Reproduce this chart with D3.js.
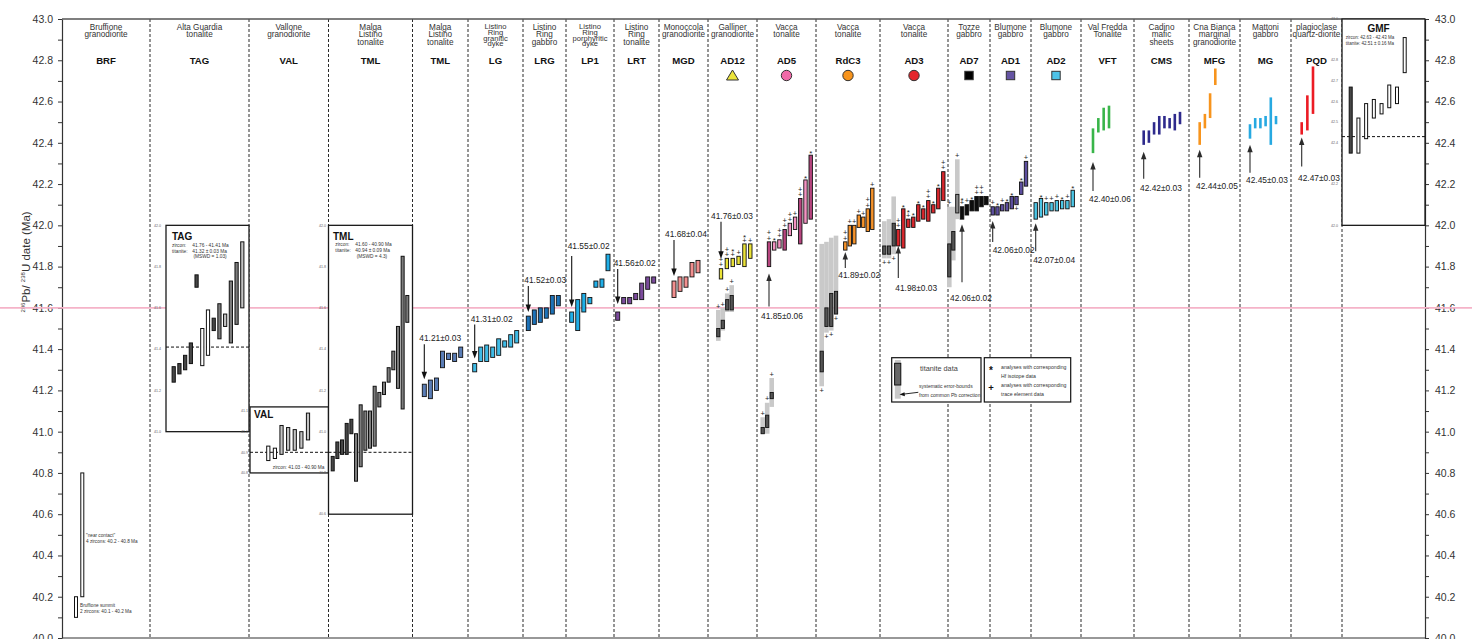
<!DOCTYPE html>
<html>
<head>
<meta charset="utf-8">
<title>U-Pb zircon and titanite dates</title>
<script src="https://cdn.jsdelivr.net/npm/d3@7/dist/d3.min.js"></script>
<style>
  html,body{margin:0;padding:0;background:#fff;}
  svg{display:block;font-family:"Liberation Sans",Arial,Helvetica,sans-serif;}
</style>
</head>
<body>
<svg id="chart" width="1472" height="639"></svg>
<script>
// ---------------- categories ----------------
const codes = ["BRF","TAG","VAL","TML","TML","LG","LRG","LP1","LRT","MGD","AD12","AD5","RdC3","AD3","AD7","AD1","AD2","VFT","CMS","MFG","MG","PQD",""];
const titles = [
  ["Bruffione","granodiorite"], ["Alta Guardia","tonalite"], ["Vallone","granodiorite"],
  ["Malga","Listino","tonalite"], ["Malga","Listino","tonalite"],
  ["Listino","Ring","granitic","dyke"], ["Listino","Ring","gabbro"], ["Listino","Ring","porphyritic","dyke"],
  ["Listino","Ring","tonalite"], ["Monoccola","granodiorite"], ["Galliner","granodiorite"],
  ["Vacca","tonalite"], ["Vacca","tonalite"], ["Vacca","tonalite"], ["Tozze","gabbro"],
  ["Blumone","gabbro"], ["Blumone","gabbro"], ["Val Fredda","Tonalite"], ["Cadino","mafic","sheets"],
  ["Cna Bianca","marginal","granodiorite"], ["Mattoni","gabbro"], ["plagioclase","quartz-diorite"], []
];
const yMajor = [40.0,40.2,40.4,40.6,40.8,41.0,41.2,41.4,41.6,41.8,42.0,42.2,42.4,42.6,42.8,43.0];
const yMinor = [40.1,40.3,40.5,40.7,40.9,41.1,41.3,41.5,41.7,41.9,42.1,42.3,42.5,42.7,42.9];

// ---------------- single-grain dates, Ma: [min, max] ----------------
const BRF  = [[40.10,40.20],[40.20,40.80]];
const TAG  = [[41.24,41.315],[41.28,41.33],[41.30,41.37],[41.33,41.43],[41.70,41.76],[41.32,41.50],[41.37,41.59],
              [41.49,41.55],[41.45,41.62],[41.51,41.57],[41.43,41.73],[41.52,41.82],[41.60,41.92]];
const VAL  = [[40.86,40.93],[40.87,40.92],[40.89,41.03],[40.91,41.02],[40.91,41.01],[40.92,41.00],[40.96,41.09]];
const TMLa = [[40.81,40.88],[40.87,40.95],[40.89,40.96],[40.89,41.04],[40.99,41.06],[40.76,40.99],[40.83,41.13],
              [40.91,41.10],[40.92,41.10],[40.93,41.22],[41.12,41.19],[41.18,41.24],[41.24,41.31],[41.30,41.39],
              [41.21,41.51],[41.11,41.85],[41.53,41.66]];
const TMLb = [[41.17,41.23],[41.16,41.25],[41.20,41.26],[41.31,41.39],[41.35,41.38],[41.34,41.38],[41.36,41.41]];
const LG   = [[41.29,41.33],[41.34,41.41],[41.34,41.42],[41.36,41.41],[41.37,41.45],[41.41,41.44],[41.41,41.47],[41.43,41.49]];
const LRG  = [[41.49,41.56],[41.52,41.59],[41.53,41.60],[41.55,41.60],[41.57,41.66],[41.61,41.66]];
const LP1  = [[41.53,41.58],[41.49,41.64],[41.58,41.67],[41.62,41.65],[41.70,41.73],[41.70,41.74],[41.78,41.86]];
const LRT  = [[41.54,41.58],[41.62,41.65],[41.62,41.65],[41.64,41.67],[41.64,41.72],[41.69,41.75],[41.72,41.75]];
const MGD  = [[41.65,41.73],[41.68,41.75],[41.70,41.75],[41.75,41.82],[41.77,41.83]];
const AD12 = [[41.74,41.79],[41.79,41.84],[41.80,41.84],[41.81,41.85],[41.80,41.91],[41.84,41.91]];
const AD5  = [[41.80,41.92],[41.88,41.92],[41.89,41.93],[41.88,41.98],[41.95,42.01],[41.98,42.04],[41.91,42.13],[42.01,42.22],[42.03,42.34]];
const RdC3 = [[41.88,41.92],[41.90,42.00],[41.91,42.00],[41.99,42.05],[41.99,42.04],[41.97,42.08],[41.98,42.18]];
const AD3  = [[41.90,41.98],[41.89,42.08],[41.99,42.03],[41.99,42.04],[42.02,42.10],[42.03,42.08],[42.02,42.12],[42.06,42.10],[42.08,42.18],[42.12,42.26]];
const AD7  = [[42.03,42.09],[42.05,42.10],[42.07,42.12],[42.07,42.14],[42.09,42.14],[42.10,42.14]];
const AD1  = [[42.05,42.09],[42.05,42.09],[42.07,42.10],[42.07,42.11],[42.08,42.14],[42.10,42.14],[42.15,42.21],[42.19,42.31]];
const AD2  = [[42.03,42.11],[42.04,42.13],[42.05,42.11],[42.07,42.11],[42.07,42.12],[42.08,42.12],[42.08,42.12],[42.09,42.17]];
const VFT  = [[42.35,42.47],[42.45,42.52],[42.46,42.57],[42.47,42.58]];
const CMS  = [[42.39,42.46],[42.40,42.46],[42.44,42.50],[42.44,42.53],[42.47,42.53],[42.47,42.52],[42.46,42.54],[42.49,42.55]];
const MFG  = [[42.39,42.50],[42.47,42.54],[42.52,42.64],[42.68,42.76]];
const MG   = [[42.42,42.49],[42.47,42.52],[42.47,42.52],[42.48,42.53],[42.39,42.62],[42.49,42.53]];
const PQD  = [[42.44,42.50],[42.46,42.63],[42.54,42.77]];
const GMF  = [[42.35,42.67],[42.35,42.52],[42.42,42.59],[42.52,42.61],[42.54,42.59],[42.57,42.68],[42.59,42.67],[42.74,42.91]];

// titanite: [lower bound incl. common-Pb error, upper bound, min, max]
const AD12t = [[41.44,41.59,41.46,41.50],[41.49,41.60,41.50,41.54],[41.58,41.67,41.59,41.64],[41.58,41.71,41.59,41.66]];
const AD5t  = [[40.99,41.07,40.99,41.02],[40.99,41.14,41.02,41.08],[41.12,41.26,41.16,41.19]];
const RdC3t = [[41.22,41.91,41.29,41.39],[41.48,41.92,41.51,41.60],[41.49,41.94,41.51,41.67],[41.57,41.95,41.57,41.68]];
const AD3t  = [[41.84,42.02,41.86,41.90],[41.84,42.03,41.86,41.90],[41.86,42.14,41.90,42.01]];
const AD7t  = [[41.70,42.09,41.75,41.91],[41.83,42.09,41.88,41.97],[42.03,42.32,42.06,42.15]];

// fill classes of the grey-scale analyses (d dark, m medium, l light, w open)
const BRF_fill  = "ww";
const TAG_fill  = "dddddwwdmlmml";
const VAL_fill  = "wwlllll";
const TMLa_fill = "dddddmmmmmmmmmmmm";
const GMF_fill  = "dwwwwwww";
const AD5_tone  = "dlldlldld";
const AD7t_tone = "ddm";

// Hf (*) and trace element (+) flags, listed top to bottom; "_" = written below the bar
const AD12_flags = ["++","++","*+","+","*+","+"];
const AD12t_flags = ["+","+","+","+"];
const AD5_flags  = ["++","*","++","++","++","+","++","*","*"];
const AD5t_flags = ["+","+","+"];
const RdC3_flags = ["++","+","+","+","+","++","+"];
const RdC3t_flags = ["_+","_+","_+","_+"];
const AD3_flags  = ["++","*","*+","*","*","*","++","*","*","++"];
const AD3t_flags = ["_+","_+","_+"];
const AD7_flags  = ["*+","+","*","++","++",""];
const AD7t_flags = ["+","","+"];
const AD1_flags  = ["+","*","+","*","*","_+","*","+"];
const AD2_flags  = ["","*","+","+","+","*","+","*"];

// weighted mean ages
const meanIds  = ["TMLb","LG","LRG","LP1","LRT","MGD","AD12","AD5","RdC3","AD3","AD7","AD1","AD2","VFT","CMS","MFG","MG","PQD"];
const meanAge  = [41.21,41.31,41.52,41.55,41.56,41.68,41.76,41.85,41.89,41.98,42.06,42.06,42.07,42.40,42.42,42.44,42.45,42.47];
const meanErr  = [0.03,0.02,0.03,0.02,0.02,0.04,0.03,0.06,0.02,0.03,0.02,0.02,0.04,0.06,0.03,0.05,0.03,0.03];

// inset panels: age range, zircon lower limit, tick labels
const insetIds    = ["TAG","VAL","TML","GMF"];
const insetRange  = [[41.0,42.0],[40.8,41.12],[40.6,42.0],[42.0,43.0]];
const insetLine   = [41.41,40.90,40.90,42.43];
const insetTicks  = [[42.0,41.8,41.6,41.4,41.2,41.0],[41.1,41.0,40.9,40.8],[42.0,41.8,41.6,41.4,41.2,41.0,40.8,40.6],[43.0,42.8,42.7,42.6,42.5,42.4,42.2,42.0]];
const referenceAge = 41.6;

// ---------------- layout ----------------
const W = 1472, H = 639;
const xL = 62, xR = 1425;
const bounds = [62,150,249,328.5,412.5,468,523,566,614,659,708,757,816,880,948,990,1031,1081,1134,1189,1240,1291,1342,1425];
const place = {   // first bar x, last bar x, bar width
  BRF:[76,82.3,3], TAG:[173.7,242.3,3.2], VAL:[268.3,308,3.2], TMLa:[332.7,407.3,3], TMLb:[424.3,460.7,4],
  LG:[474.7,516.7,4], LRG:[528.3,558.3,4], LP1:[571.7,608,4], LRT:[617.7,653.7,4], MGD:[674,698,4],
  AD12:[721,750.3,3.4], AD12t:[718.3,731.7,3.2], AD5:[769,810.7,3.4], AD5t:[762.7,771.7,3.2],
  RdC3:[845.3,872.3,3.4], RdC3t:[821.7,836,3.2], AD3t:[884.3,893.7,3.2], AD3:[898.3,943.3,3.4],
  AD7t:[949.3,957.3,3.2], AD7:[962,986.3,3.6], AD1:[992.7,1026,3.4], AD2:[1035.7,1072.7,3.4],
  VFT:[1093,1109,2.6], CMS:[1143.7,1180,2.6], MFG:[1199.7,1215.3,2.6], MG:[1250,1276,2.6], PQD:[1301.7,1313,2.6],
  GMF:[1350.7,1404.7,3]
};
const colors = {
  TMLb:"#5a7db6", LG:"#3fbbe6", LRG:"#1d72b8", LP1:"#20afe8", LRT:"#7b4b9c", MGD:"#f28f8f",
  AD12:"#ebe337", AD5d:"#b7457f", AD5l:"#f492c2", RdC3:"#f5922a", AD3:"#d8272d", AD7:"#0d0d0d",
  AD1:"#5d4f9f", AD2:"#4cc6e6", VFT:"#39b54a", CMS:"#2e2a8c", MFG:"#f7941d", MG:"#27a9e1", PQD:"#ec1c24"
};
const greys = {d:"#474747", m:"#7d7d7d", l:"#c4c4c4", w:"#ffffff"};
const ttnShade = {d:"#555555", m:"#8c8c8c"};
const insetBox = [[166,249],[250,328.5],[328.5,412.5],[1342,1425]];
const insetTickX = [161,248,326,1338];
const symbolCols = [10,11,12,13,14,15,16];
const symbolKind = ["tri","circ","circ","circ","sq","sq","sq"];
const symbolFill = ["#ece43a","#f06aa8","#f7941d","#e4262b","#000000","#6554a3","#4ec3e8"];
const arrowGap = [5,5,4,5,8,5,10, 7,2,0,5,6,4, 9,7,5,6,3];
const arrowLen = [35,34,26,51,35,36,37, 33,16,32,58,21,28, 29,27,28,28,29];
const labelDx  = [-5,-4,-4,-4,-4,-9,-10, -8,-7,-3,-12,0,-2.5, -4,-3.7,-3.7,-4,-3.7];
const labelDy  = [-3.3,-2.7,-3,-6.7,-3,-2.7,-3, 12.3,9.6,12.7,19,11.3,11.6, 11.3,12,11,10.7,14];

const svg = d3.select("#chart");
const y = d3.scaleLinear().domain([40, 43]).range([638, 19]);
const xScales = {};
function xOf(id, n) {
  const p = place[id];
  const s = d3.scaleLinear().domain([0, Math.max(1, n - 1)]).range([p[0], p[1]]);
  xScales[id] = s;
  return s;
}

// ---------------- column dividers ----------------
svg.append("g").selectAll("line").data(bounds.slice(1, -1)).join("line")
  .attr("x1", d => d).attr("x2", d => d).attr("y1", y(43)).attr("y2", y(40))
  .attr("stroke", "#2a2a2a").attr("stroke-width", 1).attr("stroke-dasharray", "3,2");

// ---------------- axes ----------------
function styleAxis(g) {
  g.attr("font-family", null).attr("font-size", null);
  g.select(".domain").attr("stroke", "#333").attr("stroke-width", 1.2);
  g.selectAll(".tick line").attr("stroke", "#333");
  g.selectAll(".tick text").attr("fill", "#333").style("font-size", "10.5px");
}
const axL = svg.append("g").attr("transform", `translate(${xL},0)`)
  .call(d3.axisLeft(y).tickValues(yMajor).tickFormat(d3.format(".1f")).tickSize(4).tickPadding(5).tickSizeOuter(0));
styleAxis(axL);
const axLm = svg.append("g").attr("transform", `translate(${xL},0)`)
  .call(d3.axisLeft(y).tickValues(yMinor).tickFormat("").tickSize(4).tickSizeOuter(0));
axLm.select(".domain").remove(); axLm.selectAll(".tick line").attr("stroke", "#333");
const axR = svg.append("g").attr("transform", `translate(${xR},0)`)
  .call(d3.axisRight(y).tickValues(yMajor).tickFormat(d3.format(".1f")).tickSize(4).tickPadding(6).tickSizeOuter(0));
styleAxis(axR);
const axRm = svg.append("g").attr("transform", `translate(${xR},0)`)
  .call(d3.axisRight(y).tickValues(yMinor).tickFormat("").tickSize(4).tickSizeOuter(0));
axRm.select(".domain").remove(); axRm.selectAll(".tick line").attr("stroke", "#333");

svg.append("line").attr("x1", xL).attr("x2", xR).attr("y1", y(43)).attr("y2", y(43))
  .attr("stroke", "#555").attr("stroke-width", 1.6);
svg.append("line").attr("x1", xL).attr("x2", xR).attr("y1", y(40)).attr("y2", y(40))
  .attr("stroke", "#333").attr("stroke-width", 1.2);

// axis title
const yl = svg.append("text").attr("transform", "translate(30,262) rotate(-90)")
  .attr("text-anchor", "middle").attr("fill", "#333").style("font-size", "11.5px");
yl.append("tspan").style("font-size", "6px").attr("dy", -5).text("206");
yl.append("tspan").attr("dy", 5).text("Pb/ ");
yl.append("tspan").style("font-size", "6px").attr("dy", -5).text("238");
yl.append("tspan").attr("dy", 5).text("U date (Ma)");

// reference line
svg.append("line").attr("x1", 0).attr("x2", W).attr("y1", y(referenceAge)).attr("y2", y(referenceAge))
  .attr("stroke", "#f5b3c8").attr("stroke-width", 1.6);

// ---------------- inset panels ----------------
const gIn = svg.append("g");
insetIds.forEach((id, i) => {
  const [x0, x1] = insetBox[i], [lo, hi] = insetRange[i];
  gIn.append("rect").attr("x", x0).attr("y", y(hi)).attr("width", x1 - x0).attr("height", y(lo) - y(hi))
    .attr("fill", "#fff").attr("stroke", "#1a1a1a").attr("stroke-width", 1.3);
  gIn.append("line").attr("x1", x0).attr("x2", x1).attr("y1", y(insetLine[i])).attr("y2", y(insetLine[i]))
    .attr("stroke", "#111").attr("stroke-width", 1).attr("stroke-dasharray", "3,2");
  gIn.selectAll(null).data(insetTicks[i]).join("text")
    .attr("x", insetTickX[i]).attr("y", d => y(d) + 1.2).attr("text-anchor", "end")
    .attr("fill", "#666").style("font-size", "3.6px").text(d => d.toFixed(1));
});
function small(g, x, yy, txt, size, anchor) {
  g.append("text").attr("x", x).attr("y", yy).attr("fill", "#333")
    .attr("text-anchor", anchor || "start").style("font-size", (size || 4.8) + "px").text(txt);
}
function bold(g, x, yy, txt, anchor) {
  g.append("text").attr("x", x).attr("y", yy).attr("fill", "#111").attr("font-weight", "bold")
    .attr("text-anchor", anchor || "start").style("font-size", "10px").text(txt);
}
bold(gIn, 172, 239.5, "TAG");
small(gIn, 172, 246.8, "zircon:"); small(gIn, 192.3, 246.8, "41.76 - 41.41 Ma");
small(gIn, 172, 252.6, "titanite:"); small(gIn, 192.3, 252.6, "41.32 \u00b1 0.03 Ma");
small(gIn, 193.5, 258.4, "(MSWD = 1.03)");
bold(gIn, 254, 417.5, "VAL");
small(gIn, 324.5, 468.8, "zircon: 41.03 - 40.90 Ma", 4.8, "end");
bold(gIn, 333, 239.5, "TML");
small(gIn, 335.3, 246.3, "zircon:"); small(gIn, 355.3, 246.3, "41.60 - 40.90 Ma");
small(gIn, 335.3, 252, "titanite:"); small(gIn, 355.3, 252, "40.94 \u00b1 0.09 Ma");
small(gIn, 356.7, 257.8, "(MSWD = 4.3)");
bold(gIn, 1378.5, 31.5, "GMF", "middle");
small(gIn, 1345.7, 39, "zircon: 42.63 - 42.43 Ma", 4.5);
small(gIn, 1345.7, 45.3, "titanite: 42.51 \u00b1 0.16 Ma", 4.5);
small(gIn, 86, 537, "\"near contact\"", 4.7);
small(gIn, 86, 543, "4 zircons: 40.2 - 40.8 Ma", 4.7);
small(gIn, 80, 607, "Bruffione summit", 4.7);
small(gIn, 80, 613, "2 zircons: 40.1 - 40.2 Ma", 4.7);

// ---------------- bars ----------------
const gBars = svg.append("g");
function bars(id, data, fill, stroke, sw) {
  const x = xOf(id, data.length), w = place[id][2];
  gBars.append("g").selectAll("rect").data(data).join("rect")
    .attr("x", (d, i) => x(i) - w / 2).attr("y", d => y(d[1]))
    .attr("width", w).attr("height", d => Math.max(0.6, y(d[0]) - y(d[1])))
    .attr("fill", (d, i) => typeof fill === "function" ? fill(d, i) : fill)
    .attr("stroke", stroke).attr("stroke-width", sw);
}
function titanite(id, data, tone) {
  const x = xOf(id, data.length), w = place[id][2];
  const g = gBars.append("g");
  g.selectAll(".bg").data(data).join("rect").attr("class", "bg")
    .attr("x", (d, i) => x(i) - w * 0.72).attr("y", d => y(d[1]))
    .attr("width", w * 1.44).attr("height", d => y(d[0]) - y(d[1])).attr("fill", "#c9c9c9");
  g.selectAll(".ti").data(data).join("rect").attr("class", "ti")
    .attr("x", (d, i) => x(i) - w / 2).attr("y", d => y(d[3]))
    .attr("width", w).attr("height", d => y(d[2]) - y(d[3]))
    .attr("fill", (d, i) => ttnShade[tone ? tone[i] : "d"]).attr("stroke", "#111").attr("stroke-width", 0.9);
}

// grey-scale series (with inset panels)
[["BRF", BRF, BRF_fill], ["TAG", TAG, TAG_fill], ["VAL", VAL, VAL_fill], ["TMLa", TMLa, TMLa_fill], ["GMF", GMF, GMF_fill]]
  .forEach(([id, d, f]) => bars(id, d, (v, i) => greys[f[i]], "#111", 1));
// coloured zircon series
const zirconSets = {TMLb, LG, LRG, LP1, LRT, MGD, AD12, RdC3, AD3, AD7, AD1, AD2};
Object.keys(zirconSets).forEach(id => bars(id, zirconSets[id], colors[id], "#111", 0.9));
bars("AD5", AD5, (d, i) => AD5_tone[i] === "d" ? colors.AD5d : colors.AD5l, "#111", 0.9);
// solid-line series
[["VFT", VFT], ["CMS", CMS], ["MFG", MFG], ["MG", MG], ["PQD", PQD]].forEach(([id, d]) => bars(id, d, colors[id], "none", 0));
// titanite
titanite("AD12t", AD12t); titanite("AD5t", AD5t); titanite("RdC3t", RdC3t);
titanite("AD3t", AD3t); titanite("AD7t", AD7t, AD7t_tone);

// ---------------- Hf / trace-element flags ----------------
const gFlags = svg.append("g").attr("fill", "#222");
function flags(id, data, list) {
  const x = xScales[id];
  list.forEach((m, i) => {
    if (!m) return;
    const d = data[i];
    const top = y(d[1]), bot = y(d[0]);
    const below = m[0] === "_";
    const chars = (below ? m.slice(1) : m).split("");
    const order = below ? chars : chars.slice().reverse();
    order.forEach((c, k) => {
      const cy = below ? bot + 4 + k * 5.2 : top - 3.8 - k * 5.2;
      gFlags.append("text").attr("x", x(i)).attr("y", cy)
        .attr("text-anchor", "middle").attr("dominant-baseline", "central")
        .attr("dy", c === "*" ? "0.3em" : 0)
        .style("font-size", c === "*" ? "8px" : "7.5px").text(c);
    });
  });
}
flags("AD12", AD12, AD12_flags); flags("AD12t", AD12t, AD12t_flags);
flags("AD5", AD5, AD5_flags); flags("AD5t", AD5t, AD5t_flags);
flags("RdC3", RdC3, RdC3_flags); flags("RdC3t", RdC3t, RdC3t_flags);
flags("AD3", AD3, AD3_flags); flags("AD3t", AD3t, AD3t_flags);
flags("AD7", AD7, AD7_flags); flags("AD7t", AD7t, AD7t_flags);
flags("AD1", AD1, AD1_flags); flags("AD2", AD2, AD2_flags);

// ---------------- weighted mean arrows ----------------
const seriesData = {TMLb, LG, LRG, LP1, LRT, MGD, AD12, AD5, RdC3, AD3, AD7, AD1, AD2, VFT, CMS, MFG, MG, PQD};
const gArr = svg.append("g");
function arrow(g, x, tail, tip, col) {
  const dir = tip > tail ? 1 : -1;
  g.append("line").attr("x1", x).attr("x2", x).attr("y1", tail).attr("y2", tip - dir * 5)
    .attr("stroke", col).attr("stroke-width", 1.1);
  g.append("path").attr("d", `M${x},${tip}L${x - 2.7},${tip - dir * 7.5}L${x + 2.7},${tip - dir * 7.5}Z`).attr("fill", col);
}
meanIds.forEach((id, i) => {
  const first = seriesData[id][0], x = xScales[id](0);
  const down = i < 7;
  const tip = down ? y(first[1]) - arrowGap[i] : y(first[0]) + arrowGap[i];
  const tail = down ? tip - arrowLen[i] : tip + arrowLen[i];
  arrow(gArr, x, tail, tip, down ? "#111" : "#2b2b2b");
  gArr.append("text").attr("x", x + labelDx[i]).attr("y", tail + labelDy[i])
    .attr("fill", "#222").style("font-size", "8.4px")
    .text(`${meanAge[i].toFixed(2)}\u00b1${meanErr[i].toFixed(2)}`);
});

// ---------------- column headers ----------------
const gHead = svg.append("g");
titles.forEach((t, i) => {
  const cx = (bounds[i] + bounds[i + 1]) / 2;
  const tight = t.length > 3;
  const step = tight ? 5.7 : 7.6;
  t.forEach((line, k) => gHead.append("text").attr("x", cx).attr("y", (tight ? 29.2 : 29.7) + k * step)
    .attr("text-anchor", "middle").attr("fill", "#333").style("font-size", tight ? "7.6px" : "8.2px").text(line));
  if (codes[i]) gHead.append("text").attr("x", cx).attr("y", 63.5).attr("text-anchor", "middle")
    .attr("font-weight", "bold").attr("fill", "#111").style("font-size", "9.6px").text(codes[i]);
});
symbolCols.forEach((c, k) => {
  const cx = (bounds[c] + bounds[c + 1]) / 2, cy = 75.5;
  const kind = symbolKind[k];
  let el;
  if (kind === "tri") el = gHead.append("path").attr("d", `M${cx},${cy - 5.5}L${cx + 6},${cy + 4.5}L${cx - 6},${cy + 4.5}Z`);
  else if (kind === "circ") el = gHead.append("circle").attr("cx", cx).attr("cy", cy).attr("r", 5.2);
  else el = gHead.append("rect").attr("x", cx - 4.2).attr("y", cy - 4.2).attr("width", 8.4).attr("height", 8.4);
  el.attr("fill", symbolFill[k]).attr("stroke", "#333").attr("stroke-width", 1);
});

// ---------------- legend ----------------
const gLeg = svg.append("g");
gLeg.append("rect").attr("x", 891.7).attr("y", 357.7).attr("width", 89.3).attr("height", 44.3)
  .attr("fill", "#fff").attr("stroke", "#111").attr("stroke-width", 1.2);
gLeg.append("rect").attr("x", 894.8).attr("y", 360).attr("width", 6).attr("height", 38.7).attr("fill", "#c9c9c9");
gLeg.append("rect").attr("x", 894.6).attr("y", 363.3).attr("width", 6.2).attr("height", 21.7)
  .attr("fill", "#666").attr("stroke", "#111").attr("stroke-width", 1);
gLeg.append("text").attr("x", 920).attr("y", 371).attr("fill", "#444").style("font-size", "7.3px").text("titanite data");
small(gLeg, 919, 387.6, "systematic error-bounds", 5);
small(gLeg, 919, 396.6, "from common Pb correction", 5);
gLeg.append("line").attr("x1", 918.3).attr("y1", 392.3).attr("x2", 903).attr("y2", 394.2).attr("stroke", "#111").attr("stroke-width", 0.9);
gLeg.append("path").attr("d", "M899.5,394.6L904.5,392.2L904.9,396.3Z").attr("fill", "#111");
gLeg.append("rect").attr("x", 984.3).attr("y", 357.7).attr("width", 86.4).attr("height", 44.3)
  .attr("fill", "#fff").attr("stroke", "#111").attr("stroke-width", 1.2);
gLeg.append("text").attr("x", 991).attr("y", 374).attr("text-anchor", "middle").attr("fill", "#111")
  .attr("font-weight", "bold").style("font-size", "10px").text("*");
gLeg.append("text").attr("x", 991).attr("y", 391).attr("text-anchor", "middle").attr("fill", "#111")
  .attr("font-weight", "bold").style("font-size", "9.5px").text("+");
small(gLeg, 1001, 369, "analyses with corresponding", 5.2);
small(gLeg, 1001, 378, "Hf isotope data", 5.2);
small(gLeg, 1001, 387.4, "analyses with corresponding", 5.2);
small(gLeg, 1001, 396.4, "trace element data", 5.2);
</script>
</body>
</html>
